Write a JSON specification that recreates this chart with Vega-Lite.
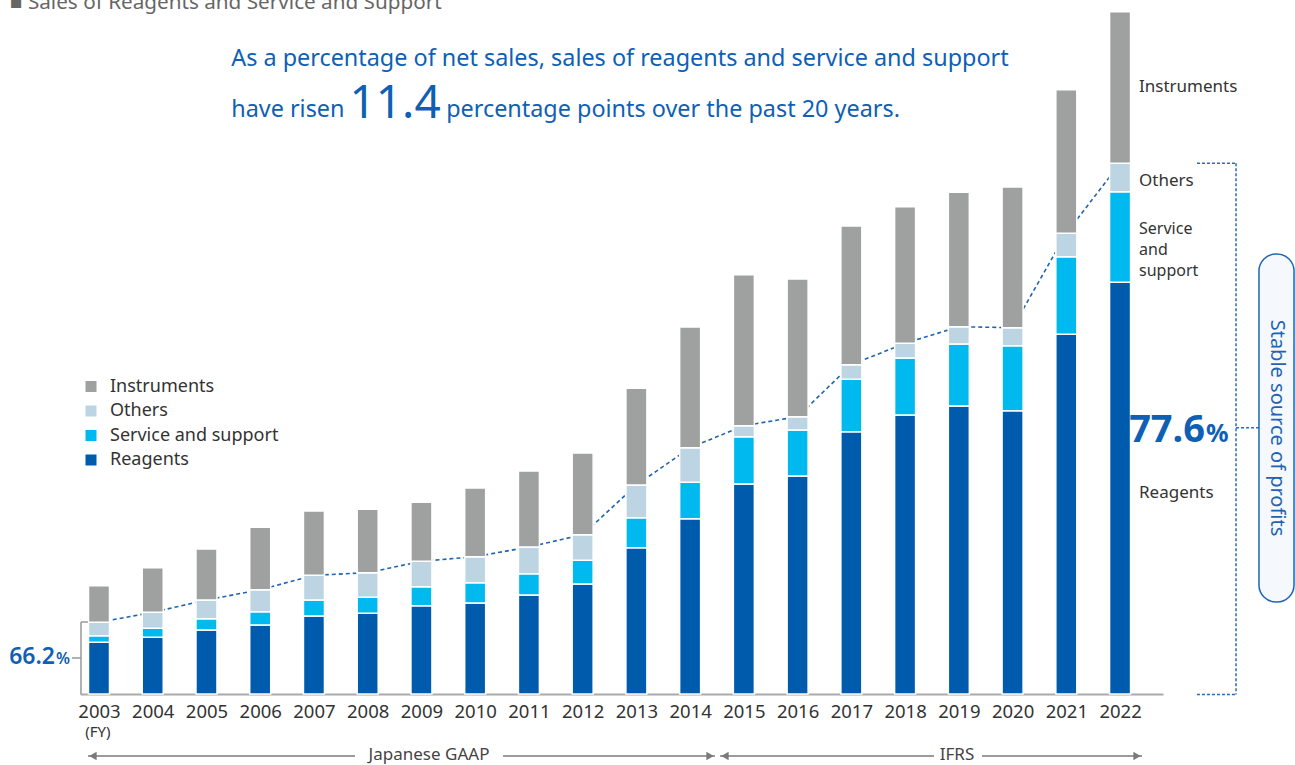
{
  "$schema": "https://vega.github.io/schema/vega-lite/v6.json",
  "width": 1083,
  "height": 694,
  "autosize": {"type": "none"},
  "padding": {"left": 80, "top": 0, "right": 132, "bottom": 71},
  "background": "white",
  "config": {"view": {"stroke": null}, "font": "Noto Sans"},
  "data": {"values": [
    {"year": 2003, "segment": "Reagents", "value": 51.7}, {"year": 2003, "segment": "Service and support", "value": 6.6}, {"year": 2003, "segment": "Others", "value": 13.4}, {"year": 2003, "segment": "Instruments", "value": 36.6},
    {"year": 2004, "segment": "Reagents", "value": 56.7}, {"year": 2004, "segment": "Service and support", "value": 9.0}, {"year": 2004, "segment": "Others", "value": 16.0}, {"year": 2004, "segment": "Instruments", "value": 44.6},
    {"year": 2005, "segment": "Reagents", "value": 64.0}, {"year": 2005, "segment": "Service and support", "value": 11.3}, {"year": 2005, "segment": "Others", "value": 18.7}, {"year": 2005, "segment": "Instruments", "value": 51.0},
    {"year": 2006, "segment": "Reagents", "value": 69.0}, {"year": 2006, "segment": "Service and support", "value": 13.3}, {"year": 2006, "segment": "Others", "value": 22.0}, {"year": 2006, "segment": "Instruments", "value": 62.4},
    {"year": 2007, "segment": "Reagents", "value": 78.0}, {"year": 2007, "segment": "Service and support", "value": 16.0}, {"year": 2007, "segment": "Others", "value": 24.7}, {"year": 2007, "segment": "Instruments", "value": 64.3},
    {"year": 2008, "segment": "Reagents", "value": 80.7}, {"year": 2008, "segment": "Service and support", "value": 16.0}, {"year": 2008, "segment": "Others", "value": 24.6}, {"year": 2008, "segment": "Instruments", "value": 63.4},
    {"year": 2009, "segment": "Reagents", "value": 88.3}, {"year": 2009, "segment": "Service and support", "value": 19.0}, {"year": 2009, "segment": "Others", "value": 25.4}, {"year": 2009, "segment": "Instruments", "value": 59.0},
    {"year": 2010, "segment": "Reagents", "value": 91.0}, {"year": 2010, "segment": "Service and support", "value": 20.3}, {"year": 2010, "segment": "Others", "value": 26.0}, {"year": 2010, "segment": "Instruments", "value": 68.7},
    {"year": 2011, "segment": "Reagents", "value": 99.0}, {"year": 2011, "segment": "Service and support", "value": 21.3}, {"year": 2011, "segment": "Others", "value": 26.7}, {"year": 2011, "segment": "Instruments", "value": 76.0},
    {"year": 2012, "segment": "Reagents", "value": 110.0}, {"year": 2012, "segment": "Service and support", "value": 23.7}, {"year": 2012, "segment": "Others", "value": 25.6}, {"year": 2012, "segment": "Instruments", "value": 81.7},
    {"year": 2013, "segment": "Reagents", "value": 146.3}, {"year": 2013, "segment": "Service and support", "value": 30.0}, {"year": 2013, "segment": "Others", "value": 32.7}, {"year": 2013, "segment": "Instruments", "value": 96.7},
    {"year": 2014, "segment": "Reagents", "value": 175.3}, {"year": 2014, "segment": "Service and support", "value": 36.4}, {"year": 2014, "segment": "Others", "value": 34.6}, {"year": 2014, "segment": "Instruments", "value": 120.7},
    {"year": 2015, "segment": "Reagents", "value": 210.0}, {"year": 2015, "segment": "Service and support", "value": 47.3}, {"year": 2015, "segment": "Others", "value": 11.0}, {"year": 2015, "segment": "Instruments", "value": 151.0},
    {"year": 2016, "segment": "Reagents", "value": 218.0}, {"year": 2016, "segment": "Service and support", "value": 46.0}, {"year": 2016, "segment": "Others", "value": 13.3}, {"year": 2016, "segment": "Instruments", "value": 137.7},
    {"year": 2017, "segment": "Reagents", "value": 262.3}, {"year": 2017, "segment": "Service and support", "value": 52.4}, {"year": 2017, "segment": "Others", "value": 14.6}, {"year": 2017, "segment": "Instruments", "value": 138.7},
    {"year": 2018, "segment": "Reagents", "value": 279.0}, {"year": 2018, "segment": "Service and support", "value": 57.0}, {"year": 2018, "segment": "Others", "value": 14.7}, {"year": 2018, "segment": "Instruments", "value": 136.6},
    {"year": 2019, "segment": "Reagents", "value": 288.0}, {"year": 2019, "segment": "Service and support", "value": 62.0}, {"year": 2019, "segment": "Others", "value": 17.3}, {"year": 2019, "segment": "Instruments", "value": 134.4},
    {"year": 2020, "segment": "Reagents", "value": 283.3}, {"year": 2020, "segment": "Service and support", "value": 65.0}, {"year": 2020, "segment": "Others", "value": 18.0}, {"year": 2020, "segment": "Instruments", "value": 140.7},
    {"year": 2021, "segment": "Reagents", "value": 359.7}, {"year": 2021, "segment": "Service and support", "value": 77.6}, {"year": 2021, "segment": "Others", "value": 23.4}, {"year": 2021, "segment": "Instruments", "value": 143.6},
    {"year": 2022, "segment": "Reagents", "value": 411.7}, {"year": 2022, "segment": "Service and support", "value": 90.6}, {"year": 2022, "segment": "Others", "value": 28.4}, {"year": 2022, "segment": "Instruments", "value": 151.6}
  ]},
  "layer": [
    {
      "transform": [
        {"filter": "datum.segment != 'Instruments'"},
        {"aggregate": [{"op": "sum", "field": "value", "as": "base"}], "groupby": ["year"]}
      ],
      "mark": {"type": "line", "color": "#1f64b4", "strokeWidth": 1.6, "strokeDash": [4, 3]},
      "encoding": {
        "x": {"field": "year", "type": "quantitative",
          "scale": {"domain": [2002.6465, 2022.799], "nice": false, "zero": false, "padding": 0},
          "axis": {"title": null, "values": [2003,2004,2005,2006,2007,2008,2009,2010,2011,2012,2013,2014,2015,2016,2017,2018,2019,2020,2021,2022],
            "format": "d", "grid": false, "ticks": false, "labelFlush": false, "labelOverlap": false,
            "labelFontSize": 18.5, "labelColor": "#333", "labelPadding": 8,
            "domainColor": "#aaaaaa", "domainWidth": 2}},
        "y": {"field": "base", "type": "quantitative",
          "scale": {"domain": [0, 694], "nice": false, "zero": false}, "axis": null}
      }
    },
    {
      "transform": [{"calculate": "indexof(['Reagents','Service and support','Others','Instruments'], datum.segment)", "as": "stackRank"}],
      "mark": {"type": "bar", "width": 21, "stroke": "white", "strokeWidth": 1.5},
      "encoding": {
        "x": {"field": "year", "type": "quantitative"},
        "y": {"field": "value", "type": "quantitative", "stack": "zero", "axis": null},
        "color": {"field": "segment", "type": "nominal",
          "scale": {"domain": ["Instruments", "Others", "Service and support", "Reagents"],
                    "range": ["#9fa0a0", "#bdd5e3", "#00b9ef", "#005bac"]},
          "legend": {"orient": "none", "legendX": 2, "legendY": 377.5, "title": null,
            "symbolType": "square", "symbolSize": 121, "symbolStrokeWidth": 0, "labelLimit": 400,
            "labelFontSize": 18, "labelColor": "#333", "rowPadding": 6.5, "labelOffset": 10, "padding": 0}},
        "order": {"field": "stackRank", "type": "quantitative"}
      }
    },
    {"data": {"values": [{}]}, "mark": {"type": "text", "text": "■ Sales of Reagents and Service and Support", "align": "left", "baseline": "alphabetic", "fontSize": 20.7, "color": "#666"},
      "encoding": {"x": {"datum": 2001.344}, "y": {"datum": 685, "axis": null}}},
    {"data": {"values": [{}]}, "mark": {"type": "text", "text": "As a percentage of net sales, sales of reagents and service and support", "align": "left", "baseline": "alphabetic", "fontSize": 23.4, "color": "#0f5fb5"},
      "encoding": {"x": {"datum": 2005.46}, "y": {"datum": 628, "axis": null}}},
    {"data": {"values": [{}]}, "mark": {"type": "text", "text": "have risen", "align": "left", "baseline": "alphabetic", "fontSize": 23.4, "color": "#0f5fb5"},
      "encoding": {"x": {"datum": 2005.46}, "y": {"datum": 577, "axis": null}}},
    {"data": {"values": [{}]}, "mark": {"type": "text", "text": "11.4", "align": "left", "baseline": "alphabetic", "fontSize": 46, "color": "#0f5fb5"},
      "encoding": {"x": {"datum": 2007.66}, "y": {"datum": 576, "axis": null}}},
    {"data": {"values": [{}]}, "mark": {"type": "text", "text": "percentage points over the past 20 years.", "align": "left", "baseline": "alphabetic", "fontSize": 23.4, "color": "#0f5fb5"},
      "encoding": {"x": {"datum": 2009.46}, "y": {"datum": 577, "axis": null}}},
    {"data": {"values": [{}]}, "mark": {"type": "text", "text": "66.2", "align": "right", "baseline": "alphabetic", "fontSize": 23, "fontWeight": 600, "color": "#0f5fb5"},
      "encoding": {"x": {"datum": 2002.181}, "y": {"datum": 30, "axis": null}}},
    {"data": {"values": [{}]}, "mark": {"type": "text", "text": "%", "align": "left", "baseline": "alphabetic", "fontSize": 16, "fontWeight": 600, "color": "#0f5fb5"},
      "encoding": {"x": {"datum": 2002.1996}, "y": {"datum": 30, "axis": null}}},
    {"data": {"values": [{}]}, "mark": {"type": "text", "text": "77.6", "align": "right", "baseline": "alphabetic", "fontSize": 38, "fontWeight": "bold", "color": "#0f5fb5"},
      "encoding": {"x": {"datum": 2023.581}, "y": {"datum": 252, "axis": null}}},
    {"data": {"values": [{}]}, "mark": {"type": "text", "text": "%", "align": "left", "baseline": "alphabetic", "fontSize": 25, "fontWeight": "bold", "color": "#0f5fb5"},
      "encoding": {"x": {"datum": 2023.599}, "y": {"datum": 252, "axis": null}}},
    {"data": {"values": [{}]}, "mark": {"type": "text", "text": "Instruments", "align": "left", "baseline": "middle", "fontSize": 17, "color": "#333"},
      "encoding": {"x": {"datum": 2022.353}, "y": {"datum": 607, "axis": null}}},
    {"data": {"values": [{}]}, "mark": {"type": "text", "text": "Others", "align": "left", "baseline": "middle", "fontSize": 17, "color": "#333"},
      "encoding": {"x": {"datum": 2022.353}, "y": {"datum": 513, "axis": null}}},
    {"data": {"values": [{}]}, "mark": {"type": "text", "text": "Service", "align": "left", "baseline": "middle", "fontSize": 16, "color": "#333"},
      "encoding": {"x": {"datum": 2022.353}, "y": {"datum": 465, "axis": null}}},
    {"data": {"values": [{}]}, "mark": {"type": "text", "text": "and", "align": "left", "baseline": "middle", "fontSize": 16, "color": "#333"},
      "encoding": {"x": {"datum": 2022.353}, "y": {"datum": 444, "axis": null}}},
    {"data": {"values": [{}]}, "mark": {"type": "text", "text": "support", "align": "left", "baseline": "middle", "fontSize": 16, "color": "#333"},
      "encoding": {"x": {"datum": 2022.353}, "y": {"datum": 423, "axis": null}}},
    {"data": {"values": [{}]}, "mark": {"type": "text", "text": "Reagents", "align": "left", "baseline": "middle", "fontSize": 17, "color": "#333"},
      "encoding": {"x": {"datum": 2022.353}, "y": {"datum": 201, "axis": null}}},
    {"data": {"values": [{}]}, "mark": {"type": "text", "text": "(FY)", "align": "center", "baseline": "middle", "fontSize": 15, "color": "#333"},
      "encoding": {"x": {"datum": 2002.981}, "y": {"datum": -37.5, "axis": null}}},
    {"data": {"values": [{}]}, "mark": {"type": "text", "text": "Japanese GAAP", "align": "center", "baseline": "middle", "fontSize": 17, "color": "#444"},
      "encoding": {"x": {"datum": 2009.141}, "y": {"datum": -61, "axis": null}}},
    {"data": {"values": [{}]}, "mark": {"type": "text", "text": "IFRS", "align": "center", "baseline": "middle", "fontSize": 17, "color": "#444"},
      "encoding": {"x": {"datum": 2018.966}, "y": {"datum": -61, "axis": null}}},
    {"data": {"values": [{}]}, "mark": {"type": "rule", "color": "#7a7a7a", "strokeWidth": 1.5},
      "encoding": {"x": {"datum": 2002.795}, "x2": {"datum": 2007.764}, "y": {"datum": -62, "axis": null}}},
    {"data": {"values": [{}]}, "mark": {"type": "rule", "color": "#7a7a7a", "strokeWidth": 1.5},
      "encoding": {"x": {"datum": 2010.518}, "x2": {"datum": 2014.463}, "y": {"datum": -62, "axis": null}}},
    {"data": {"values": [{}]}, "mark": {"type": "rule", "color": "#7a7a7a", "strokeWidth": 1.5},
      "encoding": {"x": {"datum": 2014.556}, "x2": {"datum": 2018.538}, "y": {"datum": -62, "axis": null}}},
    {"data": {"values": [{}]}, "mark": {"type": "rule", "color": "#7a7a7a", "strokeWidth": 1.5},
      "encoding": {"x": {"datum": 2019.431}, "x2": {"datum": 2022.408}, "y": {"datum": -62, "axis": null}}},
    {"data": {"values": [{}]}, "mark": {"type": "point", "shape": "triangle-left", "filled": true, "size": 70, "color": "#7a7a7a", "opacity": 1},
      "encoding": {"x": {"datum": 2002.888}, "y": {"datum": -62, "axis": null}}},
    {"data": {"values": [{}]}, "mark": {"type": "point", "shape": "triangle-right", "filled": true, "size": 70, "color": "#7a7a7a", "opacity": 1},
      "encoding": {"x": {"datum": 2014.370}, "y": {"datum": -62, "axis": null}}},
    {"data": {"values": [{}]}, "mark": {"type": "point", "shape": "triangle-left", "filled": true, "size": 70, "color": "#7a7a7a", "opacity": 1},
      "encoding": {"x": {"datum": 2014.649}, "y": {"datum": -62, "axis": null}}},
    {"data": {"values": [{}]}, "mark": {"type": "point", "shape": "triangle-right", "filled": true, "size": 70, "color": "#7a7a7a", "opacity": 1},
      "encoding": {"x": {"datum": 2022.315}, "y": {"datum": -62, "axis": null}}},
    {"data": {"values": [{}]}, "mark": {"type": "rule", "color": "#999", "strokeWidth": 1.5},
      "encoding": {"x": {"datum": 2002.665}, "y": {"datum": 0, "axis": null}, "y2": {"datum": 72}}},
    {"data": {"values": [{}]}, "mark": {"type": "rule", "color": "#999", "strokeWidth": 1.5},
      "encoding": {"x": {"datum": 2002.665}, "x2": {"datum": 2002.795}, "y": {"datum": 72, "axis": null}}},
    {"data": {"values": [{}]}, "mark": {"type": "rule", "color": "#999", "strokeWidth": 1.5},
      "encoding": {"x": {"datum": 2002.498}, "x2": {"datum": 2002.665}, "y": {"datum": 36, "axis": null}}},
    {"data": {"values": [{}]}, "mark": {"type": "rule", "color": "#2a6ab8", "strokeWidth": 1.5, "strokeDash": [3, 2]},
      "encoding": {"x": {"datum": 2023.431}, "x2": {"datum": 2024.158}, "y": {"datum": 530.7, "axis": null}}},
    {"data": {"values": [{}]}, "mark": {"type": "rule", "color": "#2a6ab8", "strokeWidth": 1.5, "strokeDash": [3, 2]},
      "encoding": {"x": {"datum": 2024.158}, "y": {"datum": 530.7, "axis": null}, "y2": {"datum": -0.5}}},
    {"data": {"values": [{}]}, "mark": {"type": "rule", "color": "#2a6ab8", "strokeWidth": 1.5, "strokeDash": [3, 2]},
      "encoding": {"x": {"datum": 2023.431}, "x2": {"datum": 2024.158}, "y": {"datum": -0.5, "axis": null}}},
    {"data": {"values": [{}]}, "mark": {"type": "rule", "color": "#2a6ab8", "strokeWidth": 1.5, "strokeDash": [3, 2]},
      "encoding": {"x": {"datum": 2024.158}, "x2": {"datum": 2024.585}, "y": {"datum": 266.3, "axis": null}}},
    {"data": {"values": [{}]}, "mark": {"type": "rect", "cornerRadius": 17, "fill": "#f5f9fd", "stroke": "#1f64b4", "strokeWidth": 1.5},
      "encoding": {"x": {"datum": 2024.585}, "x2": {"datum": 2025.237}, "y": {"datum": 92, "axis": null}, "y2": {"datum": 440}}},
    {"data": {"values": [{}]}, "mark": {"type": "text", "text": "Stable source of profits", "angle": 90, "align": "center", "baseline": "middle", "fontSize": 20, "color": "#1f64b4"},
      "encoding": {"x": {"datum": 2024.92}, "y": {"datum": 266, "axis": null}}}
  ]
}
